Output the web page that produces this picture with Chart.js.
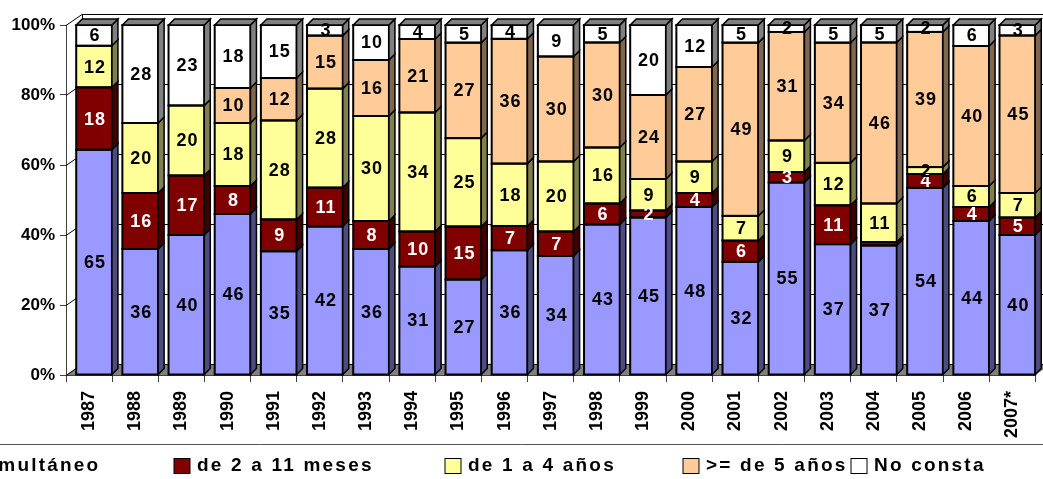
<!DOCTYPE html>
<html>
<head>
<meta charset="utf-8">
<script src="https://cdn.jsdelivr.net/npm/chart.js@4/dist/chart.umd.min.js"></script>
<style>
  html, body { margin: 0; padding: 0; background: #fff; overflow: hidden; }
</style>
</head>
<body>
<canvas id="chart" width="1043" height="479"></canvas>
<script>
const years = ['1987', '1988', '1989', '1990', '1991', '1992', '1993', '1994', '1995', '1996', '1997',
    '1998', '1999', '2000', '2001', '2002', '2003', '2004', '2005', '2006', '2007*'];
const simultaneo = [65, 36, 40, 46, 35, 42, 36, 31, 27, 36, 34, 43, 45, 48, 32, 55, 37, 37, 54, 44, 40];
const meses2a11 = [18, 16, 17, 8, 9, 11, 8, 10, 15, 7, 7, 6, 2, 4, 6, 3, 11, 1, 4, 4, 5];
const anos1a4 = [12, 20, 20, 18, 28, 28, 30, 34, 25, 18, 20, 16, 9, 9, 7, 9, 12, 11, 2, 6, 7];
const anos5 = [0, 0, 0, 10, 12, 15, 16, 21, 27, 36, 30, 30, 24, 27, 49, 31, 34, 46, 39, 40, 45];
const noConsta = [6, 28, 23, 18, 15, 3, 10, 4, 5, 4, 9, 5, 20, 12, 5, 2, 5, 5, 2, 6, 3];
const seriesNames = ['Simultáneo', 'de 2 a 11 meses', 'de 1 a 4 años', '>= de 5 años', 'No consta'];
const yTicks = [0, 20, 40, 60, 80, 100];

const FONT = '"Liberation Sans", Arial, sans-serif';
const fills = ['#9999FF', '#800000', '#FFFF99', '#FFCC99', '#FFFFFF'];
const sides = ['#4C4C80', '#400000', '#80804C', '#80664C', '#808080'];
const labelColors = ['#000', '#fff', '#000', '#000', '#000'];

// 100% stacked: scale each year to its total
const raw = [simultaneo, meses2a11, anos1a4, anos5, noConsta];
const totals = years.map((_, i) => raw.reduce((s, a) => s + a[i], 0));
const pct = raw.map(a => a.map((v, i) => v / totals[i] * 100));

const DEPTH = 6;
const WALL_DX = 16, WALL_DY = 11;
const BAR_SHIFT = 5;

const bars3d = {
    id: 'bars3d',
    beforeDatasetsDraw(chart) {
        const { ctx, chartArea: a, scales: { y } } = chart;
        ctx.save();
        // floor
        ctx.fillStyle = '#808080';
        ctx.beginPath();
        ctx.moveTo(a.left, a.bottom);
        ctx.lineTo(a.right, a.bottom);
        ctx.lineTo(a.right + WALL_DX, a.bottom - WALL_DY);
        ctx.lineTo(a.left + WALL_DX, a.bottom - WALL_DY);
        ctx.closePath();
        ctx.fill();
        // side wall diagonals + back wall grid
        ctx.strokeStyle = '#000';
        ctx.lineWidth = 1;
        ctx.beginPath();
        for (const t of yTicks) {
            const py = Math.round(y.getPixelForValue(t)) + 0.5;
            ctx.moveTo(a.left, py);
            ctx.lineTo(a.left + WALL_DX, py - WALL_DY);
            ctx.lineTo(a.right + WALL_DX, py - WALL_DY);
        }
        ctx.moveTo(a.left + WALL_DX + 0.5, a.top - WALL_DY);
        ctx.lineTo(a.left + WALL_DX + 0.5, a.bottom - WALL_DY);
        ctx.stroke();
        ctx.restore();

        ctx.save();
        ctx.translate(BAR_SHIFT, 0);
    },
    afterDatasetsDraw(chart) {
        const { ctx } = chart;
        ctx.strokeStyle = '#000';
        ctx.lineJoin = 'miter';
        const metas = chart.data.datasets.map((_, d) => chart.getDatasetMeta(d));
        metas.forEach((meta, d) => {
            meta.data.forEach((el, i) => {
                if (!raw[d][i]) return;
                const { x, y, base, width } = el.getProps(['x', 'y', 'base', 'width'], true);
                const x1 = x - width / 2, x2 = x + width / 2;
                const top = Math.min(y, base), bot = Math.max(y, base);
                // front outline
                ctx.lineWidth = 2;
                ctx.strokeRect(x1, top, width, bot - top);
                // right side face
                ctx.lineWidth = 1.5;
                ctx.fillStyle = sides[d];
                ctx.beginPath();
                ctx.moveTo(x2, top);
                ctx.lineTo(x2 + DEPTH, top - DEPTH);
                ctx.lineTo(x2 + DEPTH, bot - DEPTH);
                ctx.lineTo(x2, bot);
                ctx.closePath();
                ctx.fill();
                ctx.stroke();
            });
        });
        // top faces
        years.forEach((_, i) => {
            let d = raw.length - 1;
            while (d > 0 && !raw[d][i]) d--;
            const { x, y, width } = metas[d].data[i].getProps(['x', 'y', 'width'], true);
            const x1 = x - width / 2, x2 = x + width / 2;
            ctx.lineWidth = 1.5;
            ctx.fillStyle = sides[d];
            ctx.beginPath();
            ctx.moveTo(x1, y);
            ctx.lineTo(x1 + DEPTH, y - DEPTH);
            ctx.lineTo(x2 + DEPTH, y - DEPTH);
            ctx.lineTo(x2, y);
            ctx.closePath();
            ctx.fill();
            ctx.stroke();
        });
        // value labels
        ctx.font = `bold 18px ${FONT}`;
        ctx.letterSpacing = '1px';
        ctx.textAlign = 'center';
        ctx.textBaseline = 'middle';
        metas.forEach((meta, d) => {
            meta.data.forEach((el, i) => {
                if (raw[d][i] < 2) return;
                const { x, y, base } = el.getProps(['x', 'y', 'base'], true);
                ctx.fillStyle = labelColors[d];
                ctx.fillText(String(raw[d][i]), x + 1, (y + base) / 2 + 1);
            });
        });
        ctx.restore();
    },
};

const legendRow = {
    id: 'legendRow',
    afterDraw(chart) {
        const { ctx, width } = chart;
        const textX = [-24, 197, 468, 706, 874];
        ctx.save();
        ctx.strokeStyle = '#555';
        ctx.lineWidth = 1;
        ctx.beginPath();
        ctx.moveTo(0, 444.5);
        ctx.lineTo(width, 444.5);
        ctx.stroke();
        ctx.font = `bold 19px ${FONT}`;
        ctx.letterSpacing = '2.2px';
        ctx.textBaseline = 'middle';
        seriesNames.forEach((name, i) => {
            const tx = textX[i];
            ctx.fillStyle = fills[i];
            ctx.fillRect(tx - 23, 458.5, 16, 15);
            ctx.strokeStyle = '#000';
            ctx.lineWidth = 1;
            ctx.strokeRect(tx - 23, 458.5, 16, 15);
            ctx.fillStyle = '#000';
            ctx.fillText(name, tx, 466);
        });
        ctx.restore();
    },
};

new Chart(document.getElementById('chart'), {
    type: 'bar',
    data: {
        labels: years,
        datasets: seriesNames.map((name, d) => ({
            label: name,
            data: pct[d],
            backgroundColor: fills[d],
            borderWidth: 0,
            barPercentage: 0.774,
            categoryPercentage: 1,
        })),
    },
    options: {
        responsive: false,
        animation: false,
        events: [],
        layout: { padding: { top: 25, right: 1, left: 0, bottom: 0 } },
        plugins: { legend: { display: false }, tooltip: { enabled: false } },
        scales: {
            x: {
                stacked: true,
                grid: { drawOnChartArea: false, tickLength: 7, color: '#404040', offset: true },
                border: { color: '#404040' },
                ticks: {
                    maxRotation: 90, minRotation: 90, autoSkip: false, padding: 9, color: '#000',
                    font: { family: FONT, size: 18, weight: 'bold' },
                },
                afterFit: s => { s.height = 104; },
            },
            y: {
                stacked: true,
                min: 0,
                max: 100,
                grid: { drawOnChartArea: false, tickLength: 6, color: '#404040' },
                border: { color: '#404040' },
                ticks: {
                    stepSize: 20, padding: 5, color: '#000',
                    callback: v => v + '%',
                    font: { family: FONT, size: 17, weight: 'bold' },
                },
                afterFit: s => { s.width = 66; },
            },
        },
    },
    plugins: [bars3d, legendRow],
});
</script>
</body>
</html>
